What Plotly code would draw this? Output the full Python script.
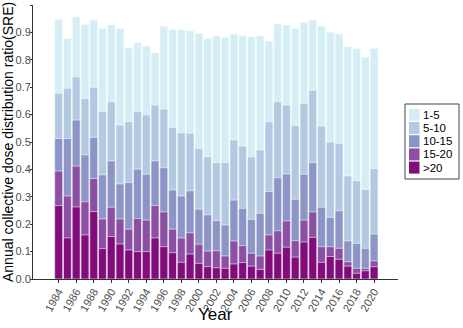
import plotly.graph_objects as go

years = list(range(1984, 2021))

# Cumulative share levels as displayed (each band top)
lvl_1_5 = [0.948, 0.878, 0.957, 0.929, 0.945, 0.915, 0.928, 0.915, 0.844, 0.863,
           0.850, 0.826, 0.923, 0.911, 0.911, 0.906, 0.897, 0.878, 0.887, 0.882,
           0.894, 0.889, 0.884, 0.887, 0.869, 0.931, 0.927, 0.915, 0.937, 0.945,
           0.923, 0.901, 0.895, 0.848, 0.841, 0.810, 0.842]
lvl_5_10 = [0.678, 0.696, 0.738, 0.659, 0.700, 0.611, 0.647, 0.562, 0.574, 0.611,
            0.599, 0.635, 0.620, 0.553, 0.534, 0.532, 0.477, 0.446, 0.425, 0.425,
            0.507, 0.485, 0.446, 0.471, 0.574, 0.647, 0.635, 0.560, 0.641, 0.689,
            0.558, 0.500, 0.495, 0.376, 0.359, 0.327, 0.403]
lvl_10_15 = [0.513, 0.513, 0.580, 0.453, 0.517, 0.380, 0.431, 0.347, 0.352, 0.401,
             0.382, 0.431, 0.406, 0.325, 0.303, 0.322, 0.255, 0.234, 0.213, 0.197,
             0.288, 0.258, 0.218, 0.240, 0.319, 0.370, 0.383, 0.291, 0.382, 0.425,
             0.262, 0.225, 0.249, 0.139, 0.130, 0.112, 0.164]
lvl_15_20 = [0.394, 0.303, 0.412, 0.282, 0.367, 0.219, 0.262, 0.219, 0.182, 0.221,
             0.215, 0.268, 0.245, 0.182, 0.150, 0.169, 0.127, 0.102, 0.103, 0.084,
             0.139, 0.122, 0.094, 0.084, 0.161, 0.176, 0.212, 0.140, 0.215, 0.245,
             0.118, 0.118, 0.112, 0.063, 0.039, 0.039, 0.066]
lvl_gt20 = [0.268, 0.150, 0.263, 0.161, 0.246, 0.111, 0.155, 0.128, 0.106, 0.100,
            0.100, 0.150, 0.118, 0.096, 0.061, 0.091, 0.057, 0.045, 0.041, 0.039,
            0.055, 0.060, 0.047, 0.035, 0.106, 0.094, 0.116, 0.080, 0.135, 0.152,
            0.061, 0.082, 0.072, 0.047, 0.021, 0.030, 0.045]

names = ["1-5", "5-10", "10-15", "15-20", ">20"]
colors = ["#d5eef5", "#b2c9e1", "#8c95c6", "#8b4fa3", "#820c7b"]
series = [lvl_1_5, lvl_5_10, lvl_10_15, lvl_15_20, lvl_gt20]

W, H = 463, 328
ML, MR, MT, MB = 33, 65, 5, 49
PW, PH = W - ML - MR, H - MT - MB


def px_x(px):
    return (px - ML) / PW


def px_y(py):
    return (H - MB - py) / PH


fig = go.Figure()
for name, col, vals in zip(names, colors, series):
    fig.add_trace(go.Bar(
        x=years, y=vals, name=name, width=0.9,
        marker=dict(color=col, line=dict(color="rgba(255,255,255,0.7)", width=0.8)),
        showlegend=False,
    ))

font_family = "Arial, Liberation Sans, sans-serif"

shapes = []
annotations = []
# legend box
shapes.append(dict(type="rect", xref="paper", yref="paper",
                   x0=px_x(405), x1=px_x(459), y0=px_y(179), y1=px_y(104),
                   line=dict(color="#444444", width=1), fillcolor="white", layer="above"))
row_top = 108.5
row_h = 13.2
for i, (name, col) in enumerate(zip(names, colors)):
    t = row_top + i * row_h
    shapes.append(dict(type="rect", xref="paper", yref="paper",
                       x0=px_x(409), x1=px_x(419.5), y0=px_y(t + row_h - 0.9), y1=px_y(t + 0.3),
                       line=dict(width=0), fillcolor=col, layer="above"))
    annotations.append(dict(text=name, xref="paper", yref="paper",
                            x=px_x(421), y=px_y(t + row_h / 2 - 0.3),
                            xanchor="left", yanchor="middle", showarrow=False,
                            font=dict(size=11.5, color="#000000", family=font_family)))

annotations.append(dict(text="Annual collective dose distribution ratio(SRE)",
                        xref="paper", yref="paper", x=px_x(8), y=px_y(142),
                        textangle=-90, xanchor="center", yanchor="middle", showarrow=False,
                        font=dict(size=14, color="#000000", family=font_family)))
annotations.append(dict(text="Year", xref="paper", yref="paper", x=px_x(215.5), y=px_y(314),
                        xanchor="center", yanchor="middle", showarrow=False,
                        font=dict(size=17, color="#000000", family=font_family)))

fig.update_layout(
    barmode="overlay",
    width=W, height=H,
    margin=dict(l=ML, r=MR, t=MT, b=MB, pad=0),
    paper_bgcolor="white", plot_bgcolor="white",
    font=dict(family=font_family, color="#000000"),
    showlegend=False,
    shapes=shapes,
    annotations=annotations,
    xaxis=dict(
        range=[1981.07, 2022.73],
        tickvals=list(range(1984, 2021, 2)),
        ticktext=[str(y) for y in range(1984, 2021, 2)],
        tickangle=-60,
        tickfont=dict(size=11, color="#4d4d4d"),
        ticks="outside", ticklen=3, tickcolor="#333333",
        ticklabelstandoff=-2,
        showline=True, linecolor="#333333", linewidth=1,
        showgrid=False, zeroline=False,
        automargin=False,
    ),
    yaxis=dict(
        range=[0, 1.0],
        tickvals=[i / 10 for i in range(11)],
        tickformat=".1f",
        tickfont=dict(size=11, color="#4d4d4d"),
        ticks="outside", ticklen=2, tickcolor="#333333",
        ticklabelstandoff=-3,
        showline=True, linecolor="#333333", linewidth=1,
        showgrid=False, zeroline=False,
        automargin=False,
    ),
)

fig.write_html("out.html")
